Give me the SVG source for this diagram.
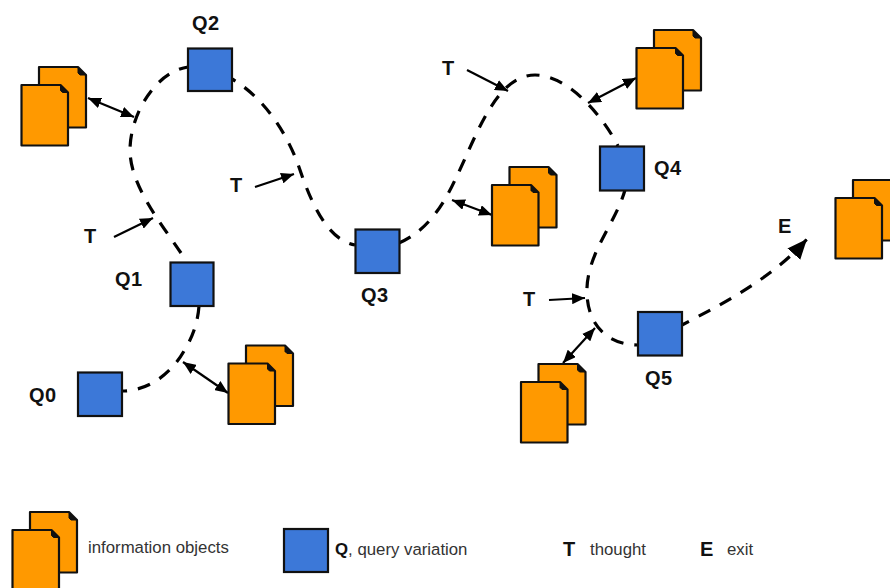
<svg xmlns="http://www.w3.org/2000/svg" width="890" height="588" viewBox="0 0 890 588">
<style>
text{font-family:"Liberation Sans",Arial,sans-serif;fill:#111}
.l{font-size:20px;font-weight:bold;letter-spacing:.5px}
.c{font-size:16.8px;fill:#333}
.q{fill:#3c78d8;stroke:#111;stroke-width:2.2}
.p{fill:#ff9900;stroke:#111;stroke-width:2.2;stroke-linejoin:round}
.f{fill:#111;stroke:#111;stroke-width:1}
.d{fill:none;stroke:#000;stroke-width:3.200;stroke-dasharray:13 11}
.a{fill:none;stroke:#000;stroke-width:2.200}
</style>
<defs>
<marker id="h" markerWidth="14" markerHeight="11" refX="13" refY="5.500" orient="auto-start-reverse" markerUnits="userSpaceOnUse"><path d="M0 0L13 5.500L0 11Z" fill="#000"/></marker>
<marker id="big" markerWidth="22" markerHeight="18" refX="20" refY="8.500" orient="auto" markerUnits="userSpaceOnUse"><path d="M0 0L20 8.500L0 17Z" fill="#000"/></marker>
<g id="doc">
<path class="p" d="M17.500 -18H56.500L64.500 -10V42.500H17.500Z"/><path class="f" d="M56.500 -18L64.500 -10H58.500L56.500 -12Z"/>
<path class="p" d="M0 0H39L46.500 7.500V60.500H0Z"/><path class="f" d="M39 0L46.500 7.500H41L39 5.500Z"/>
</g>
</defs>
<rect width="890" height="588" fill="#fff"/>
<g id="connectors">
<path class="d" stroke-dashoffset="8" d="M122 391C150 391 172 372 184 351C194 335 198 320 199 306"/>
<path class="d" d="M181 253C160 222 130 185 130 150C130 115 155 72 188 67"/>
<path class="d" stroke-dashoffset="9" d="M232 79C268 100 290 140 300 170C312 205 328 240 355 245"/>
<path class="d" d="M399 243C425 232 442 208 455 180C475 140 495 75 535 75C570 75 605 120 618 146"/>
<path class="d" stroke-dashoffset="3" d="M625 190C615 225 585 255 587 295C589 330 612 345 638 345"/>
<path class="d" stroke-dashoffset="5" d="M682 325C720 305 772 279 807 239" marker-end="url(#big)"/>
<path class="a" d="M88 98L134 117" marker-start="url(#h)" marker-end="url(#h)"/>
<path class="a" d="M183 362L228 393" marker-start="url(#h)" marker-end="url(#h)"/>
<path class="a" d="M452 200L492 215" marker-start="url(#h)" marker-end="url(#h)"/>
<path class="a" d="M588 103L636 78" marker-start="url(#h)" marker-end="url(#h)"/>
<path class="a" d="M563 363L595 328" marker-start="url(#h)" marker-end="url(#h)"/>
<path class="a" d="M114 237L153 218" marker-end="url(#h)"/>
<path class="a" d="M255 187L294 174" marker-end="url(#h)"/>
<path class="a" d="M467 70L508 91" marker-end="url(#h)"/>
<path class="a" d="M549 300L585 298" marker-end="url(#h)"/>
</g>
<g id="Q0"><rect class="q" x="78" y="372.500" width="44" height="43.500"/><text class="l" x="29" y="402">Q0</text></g>
<g id="Q1"><rect class="q" x="170.500" y="262.500" width="43" height="43.500"/><text class="l" x="115" y="286">Q1</text></g>
<g id="Q2"><rect class="q" x="188" y="48.500" width="44" height="42.500"/><text class="l" x="192" y="30">Q2</text></g>
<g id="Q3"><rect class="q" x="355.500" y="229.500" width="44" height="43.500"/><text class="l" x="361" y="302">Q3</text></g>
<g id="Q4"><rect class="q" x="600" y="146.500" width="44" height="44"/><text class="l" x="654" y="175">Q4</text></g>
<g id="Q5"><rect class="q" x="638" y="312" width="44" height="43.500"/><text class="l" x="645" y="385">Q5</text></g>
<g id="docs1"><use href="#doc" x="21.500" y="85"/></g>
<g id="docs2"><use href="#doc" x="228.500" y="363.500"/></g>
<g id="docs3"><use href="#doc" x="492" y="185"/></g>
<g id="docs4"><use href="#doc" x="636.500" y="48"/></g>
<g id="docs5"><use href="#doc" x="521" y="382"/></g>
<g id="docs6"><use href="#doc" x="835.500" y="198"/></g>
<g id="labels">
<text class="l" x="84" y="243">T</text>
<text class="l" x="230" y="192">T</text>
<text class="l" x="442" y="75">T</text>
<text class="l" x="523" y="306">T</text>
<text class="l" x="778" y="233">E</text>
</g>
<g id="legend">
<use href="#doc" x="12.500" y="530"/>
<text class="c" x="88" y="553">information objects</text>
<rect class="q" x="284" y="529" width="44" height="43"/>
<text class="c" x="335" y="555"><tspan font-weight="bold" fill="#111">Q</tspan>, query variation</text>
<text class="l" x="563" y="556">T</text>
<text class="c" x="590" y="555">thought</text>
<text class="l" x="700" y="556">E</text>
<text class="c" x="727" y="555">exit</text>
</g>
</svg>
